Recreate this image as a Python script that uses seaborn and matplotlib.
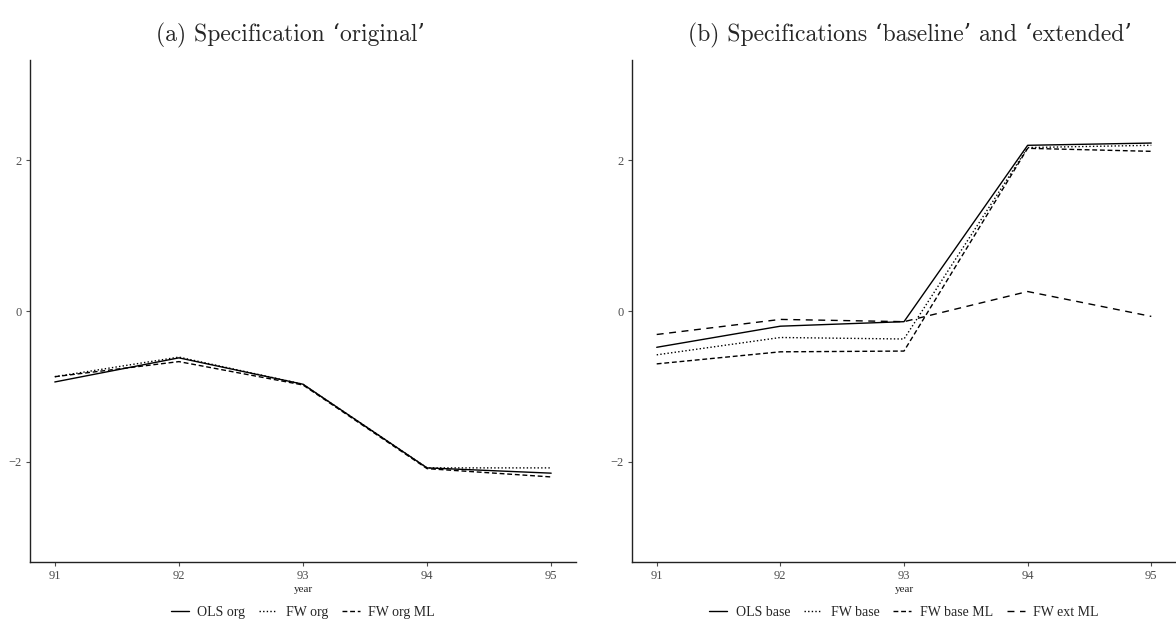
import numpy as np
import pandas as pd
import matplotlib
matplotlib.use("Agg")
import matplotlib.pyplot as plt
import seaborn as sns

# ── data ───────────────────────────────────────────────────────────────────────
years = [91, 92, 93, 94, 95]

ols_org    = [-0.94, -0.62, -0.97, -2.08, -2.15]
fw_org     = [-0.87, -0.61, -0.97, -2.08, -2.08]
fw_org_ml  = [-0.87, -0.67, -0.98, -2.09, -2.20]

ols_base   = [-0.48, -0.20, -0.14, 2.20, 2.23]
fw_base    = [-0.58, -0.35, -0.37, 2.17, 2.20]
fw_base_ml = [-0.70, -0.54, -0.53, 2.16, 2.12]
fw_ext_ml  = [-0.31, -0.11, -0.14, 0.26, -0.07]

left_names  = ["OLS org", "FW org", "FW org ML"]
right_names = ["OLS base", "FW base", "FW base ML", "FW ext ML"]

titles = ["(a) Specification \u2018original\u2019",
          "(b) Specifications \u2018baseline\u2019 and \u2018extended\u2019"]


def long_frame(names, series):
    rows = []
    for n, vals in zip(names, series):
        for yr, v in zip(years, vals):
            rows.append({"year": yr, "value": v, "series": n})
    return pd.DataFrame(rows)


df_left = long_frame(left_names, [ols_org, fw_org, fw_org_ml])
df_right = long_frame(right_names, [ols_base, fw_base, fw_base_ml, fw_ext_ml])

DASHES = {
    "OLS org": "", "FW org": (1, 1.6), "FW org ML": (3.5, 2),
    "OLS base": "", "FW base": (1, 1.6), "FW base ML": (3.5, 2), "FW ext ML": (5, 4),
}

sns.set_theme(style="ticks")
plt.rcParams["font.family"] = ["Liberation Serif", "DejaVu Serif"]

fig = plt.figure(figsize=(11.76, 6.33), dpi=100)
ax_l = fig.add_axes([0.0255, 0.112, 0.4643, 0.793])
ax_r = fig.add_axes([0.5374, 0.112, 0.4626, 0.793])

GREY = "#4d4d4d"
for ax, df, names in [(ax_l, df_left, left_names), (ax_r, df_right, right_names)]:
    sns.lineplot(data=df, x="year", y="value", style="series", style_order=names,
                 dashes={n: DASHES[n] for n in names}, color="black",
                 linewidth=1.0, ax=ax)
    ax.set_xlim(90.8, 95.2)
    ax.set_ylim(-3.33, 3.33)
    ax.set_xticks(years)
    ax.set_yticks([-2, 0, 2])
    ax.set_yticklabels(["\u22122", "0", "2"])
    ax.set_xlabel("year", fontsize=8, labelpad=2)
    ax.set_ylabel("")
    sns.despine(ax=ax)
    for s in ["left", "bottom"]:
        ax.spines[s].set_linewidth(1.0)
        ax.spines[s].set_color("#222222")
    ax.tick_params(axis="both", labelsize=9, colors=GREY, length=3, width=0.8,
                   pad=3, labelcolor=GREY)
    handles, labels = ax.get_legend_handles_labels()
    ax.get_legend().remove()
    ax.legend(handles, labels, loc="center", bbox_to_anchor=(0.5, -0.1),
              ncol=len(names), frameon=False, fontsize=10,
              handlelength=1.3, handletextpad=0.6, columnspacing=1.0)

fig.text(290 / 1176, 1 - 35 / 633, titles[0], ha="center", va="center",
         fontsize=17, family=["cmr10", "DejaVu Serif"])
fig.text(910 / 1176, 1 - 35 / 633, titles[1], ha="center", va="center",
         fontsize=17, family=["cmr10", "DejaVu Serif"])

fig.savefig("out.png", dpi=100)
